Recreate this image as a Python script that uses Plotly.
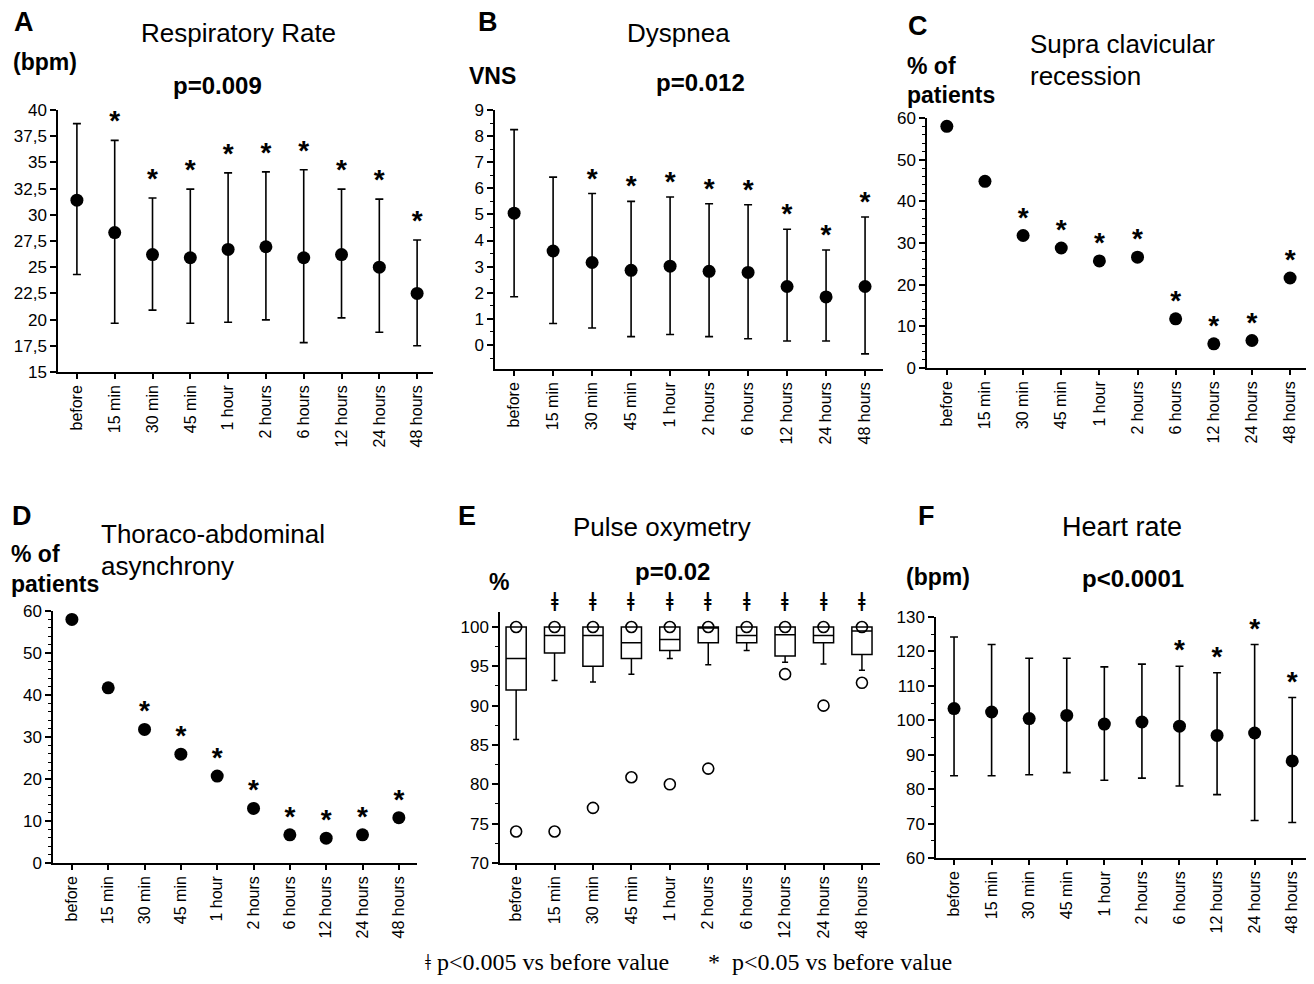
import plotly.graph_objects as go

# page body has an 8px margin: the figure is sized so the page fits the window
OFF = 8
W, H = 1314 - OFF, 984 - 2 * OFF

categories = ["before", "15 min", "30 min", "45 min", "1 hour", "2 hours",
              "6 hours", "12 hours", "24 hours", "48 hours"]

# A: Respiratory rate (bpm)
rr_mean = [31.4, 28.3, 26.2, 25.9, 26.7, 26.95, 25.9, 26.2, 25.0, 22.5]
rr_upper = [38.7, 37.1, 31.6, 32.45, 34.0, 34.1, 34.3, 32.45, 31.5, 27.6]
rr_lower = [24.3, 19.65, 20.9, 19.65, 19.75, 19.97, 17.8, 20.16, 18.8, 17.5]
rr_sig = [False, True, True, True, True, True, True, True, True, True]

# B: Dyspnea (VNS)
dy_mean = [5.05, 3.6, 3.16, 2.86, 3.02, 2.82, 2.78, 2.24, 1.84, 2.24]
dy_upper = [8.25, 6.43, 5.8, 5.5, 5.67, 5.41, 5.37, 4.43, 3.64, 4.9]
dy_lower = [1.85, 0.82, 0.65, 0.32, 0.4, 0.32, 0.24, 0.15, 0.15, -0.34]
dy_sig = [False, False, True, True, True, True, True, True, True, True]

# C: Supra clavicular recession (% of patients)
sc_pct = [58.0, 44.8, 31.8, 28.8, 25.7, 26.6, 11.8, 5.8, 6.6, 21.6]
sc_sig = [False, False, True, True, True, True, True, True, True, True]

# D: Thoraco-abdominal asynchrony (% of patients)
ta_pct = [58.0, 41.7, 31.8, 25.9, 20.7, 13.0, 6.7, 5.9, 6.7, 10.8]
ta_sig = [False, False, True, True, True, True, True, True, True, True]

# E: Pulse oxymetry (%) box plots
po_q1 = [92.0, 96.7, 95.0, 96.0, 97.0, 98.0, 98.0, 96.3, 98.0, 96.5]
po_med = [96.0, 98.9, 98.9, 98.0, 98.4, 100.0, 98.9, 99.0, 98.9, 99.5]
po_q3 = [100, 100, 100, 100, 100, 100, 100, 100, 100, 100]
po_low = [85.7, 93.2, 93.0, 94.0, 96.0, 95.2, 97.0, 95.5, 95.3, 94.5]
po_high = [100, 100, 100, 100, 100, 100, 100, 100, 100, 100]
po_out_high = [100, 100, 100, 100, 100, 100, 100, 100, 100, 100]
po_out_low = [74.0, 74.0, 77.0, 80.9, 80.0, 82.0, None, 94.0, 90.0, 92.9]
po_sig = [False, True, True, True, True, True, True, True, True, True]

# F: Heart rate (bpm)
hr_mean = [103.4, 102.4, 100.5, 101.4, 98.9, 99.5, 98.3, 95.6, 96.3, 88.2]
hr_upper = [124.2, 122.0, 118.0, 118.0, 115.5, 116.3, 115.7, 113.8, 122.0, 106.6]
hr_lower = [83.9, 83.9, 84.2, 84.8, 82.6, 83.2, 80.9, 78.4, 70.9, 70.3]
hr_sig = [False, False, False, False, False, False, True, True, True, True]

FONT = "Arial, Liberation Sans, sans-serif"
SERIF = "Liberation Serif, Times New Roman, serif"
BLACK = "#000000"


def fx(x):
    return min(1.0, max(0.0, (x - OFF) / W))


def fy(y):
    return min(1.0, max(0.0, 1 - (y - OFF) / H))


# panel geometry in window pixels: x (left, right), y (top, bottom)
panels = {
    1: dict(x=(58, 433), y=(110, 372), yr=[15, 40],
            tv=[15, 17.5, 20, 22.5, 25, 27.5, 30, 32.5, 35, 37.5, 40],
            tt=["15", "17,5", "20", "22,5", "25", "27,5", "30", "32,5", "35", "37,5", "40"],
            xr=[-0.5, 9.42], minor=None),
    2: dict(x=(495, 883), y=(110, 369), yr=[-0.92, 9],
            tv=list(range(0, 10)), tt=[str(v) for v in range(0, 10)],
            xr=[-0.49, 9.46], minor=0.5),
    3: dict(x=(927, 1308), y=(118, 368), yr=[0, 60],
            tv=[0, 10, 20, 30, 40, 50, 60], tt=["0", "10", "20", "30", "40", "50", "60"],
            xr=[-0.52, 9.47], minor=2),
    4: dict(x=(53, 417), y=(611, 863), yr=[0, 60],
            tv=[0, 10, 20, 30, 40, 50, 60], tt=["0", "10", "20", "30", "40", "50", "60"],
            xr=[-0.52, 9.5], minor=2),
    5: dict(x=(500, 880), y=(612, 863), yr=[70, 101.9],
            tv=[70, 75, 80, 85, 90, 95, 100], tt=["70", "75", "80", "85", "90", "95", "100"],
            xr=[-0.42, 9.47], minor=2.5),
    6: dict(x=(936, 1308), y=(617, 858), yr=[60, 130],
            tv=[60, 70, 80, 90, 100, 110, 120, 130],
            tt=["60", "70", "80", "90", "100", "110", "120", "130"],
            xr=[-0.48, 9.42], minor=5),
}


def units_per_px(n):
    p = panels[n]
    return (p["yr"][1] - p["yr"][0]) / (p["y"][1] - p["y"][0])


fig = go.Figure()


def err_trace(mean, upper, lower, n):
    return go.Scatter(
        x=categories, y=mean, mode="markers",
        marker=dict(color=BLACK, size=13),
        error_y=dict(type="data", symmetric=False,
                     array=[u - m for u, m in zip(upper, mean)],
                     arrayminus=[m - l for m, l in zip(mean, lower)],
                     color=BLACK, thickness=1.6, width=4),
        xaxis=f"x{n}", yaxis=f"y{n}", showlegend=False, cliponaxis=False)


def star_trace(base, sig, px_gap, n):
    off = px_gap * units_per_px(n)
    xs = [c for c, s in zip(categories, sig) if s]
    ys = [b + off for b, s in zip(base, sig) if s]
    return go.Scatter(
        x=xs, y=ys, mode="text", text=["*"] * len(xs),
        textposition="middle center",
        textfont=dict(family=FONT, size=28, color=BLACK, weight="bold"),
        xaxis=f"x{n}", yaxis=f"y{n}", showlegend=False, cliponaxis=False)


def dot_trace(vals, n):
    return go.Scatter(x=categories, y=vals, mode="markers",
                      marker=dict(color=BLACK, size=13),
                      xaxis=f"x{n}", yaxis=f"y{n}", showlegend=False, cliponaxis=False)


# A
fig.add_trace(err_trace(rr_mean, rr_upper, rr_lower, 1))
fig.add_trace(star_trace(rr_upper, rr_sig, 17, 1))
# B
fig.add_trace(err_trace(dy_mean, dy_upper, dy_lower, 2))
fig.add_trace(star_trace(dy_upper, dy_sig, 13, 2))
# C
fig.add_trace(dot_trace(sc_pct, 3))
fig.add_trace(star_trace(sc_pct, sc_sig, 16, 3))
# D
fig.add_trace(dot_trace(ta_pct, 4))
fig.add_trace(star_trace(ta_pct, ta_sig, 16, 4))
# E
fig.add_trace(go.Box(x=categories, q1=po_q1, median=po_med, q3=po_q3,
                     lowerfence=po_low, upperfence=po_high,
                     fillcolor="white", line=dict(color=BLACK, width=1.5),
                     whiskerwidth=0.3, boxpoints=False,
                     xaxis="x5", yaxis="y5", showlegend=False))
for vals in (po_out_high, po_out_low):
    fig.add_trace(go.Scatter(x=categories, y=vals, mode="markers",
                             marker=dict(symbol="circle-open", color=BLACK, size=11,
                                         line=dict(width=1.6)),
                             xaxis="x5", yaxis="y5", showlegend=False, cliponaxis=False))
# F
fig.add_trace(err_trace(hr_mean, hr_upper, hr_lower, 6))
fig.add_trace(star_trace(hr_upper, hr_sig, 14, 6))

layout_axes = {}
for n, p in panels.items():
    xa = dict(domain=[fx(p["x"][0]), fx(p["x"][1])], anchor=f"y{n}", type="category",
              categoryorder="array", categoryarray=categories,
              range=p["xr"], showline=True, linecolor=BLACK, linewidth=1.5,
              ticks="outside", ticklen=5, tickwidth=1.5, tickcolor=BLACK,
              tickangle=-90, tickfont=dict(family=FONT, size=16, color=BLACK),
              showgrid=False, zeroline=False, fixedrange=True, automargin=False)
    ya = dict(domain=[fy(p["y"][1]), fy(p["y"][0])], anchor=f"x{n}", range=p["yr"],
              tickmode="array", tickvals=p["tv"], ticktext=p["tt"],
              showline=True, linecolor=BLACK, linewidth=1.5,
              ticks="outside", ticklen=6, tickwidth=1.5, tickcolor=BLACK,
              tickfont=dict(family=FONT, size=17, color=BLACK),
              showgrid=False, zeroline=False, fixedrange=True, automargin=False)
    if p["minor"]:
        ya["minor"] = dict(dtick=p["minor"], tick0=0, ticks="outside", ticklen=3,
                           tickwidth=1.2, tickcolor=BLACK, showgrid=False)
    key = "" if n == 1 else str(n)
    layout_axes["xaxis" + key] = xa
    layout_axes["yaxis" + key] = ya

fig.update_layout(**layout_axes)


def ann(text, x, y, size, bold=False, xanchor="left", family=FONT):
    if bold:
        text = f"<b>{text}</b>"
    return dict(text=text, x=fx(x), y=fy(y), xref="paper", yref="paper",
                xanchor=xanchor, yanchor="middle", showarrow=False,
                font=dict(family=family, size=size, color=BLACK))


annotations = [
    ann("A", 12, 22, 27, bold=True),
    ann("Respiratory Rate", 238, 33, 26, xanchor="center"),
    ann("(bpm)", 11, 62, 23, bold=True),
    ann("p=0.009", 217, 85, 24, bold=True, xanchor="center"),

    ann("B", 476, 22, 27, bold=True),
    ann("Dyspnea", 678, 33, 26, xanchor="center"),
    ann("VNS", 467, 76, 23, bold=True),
    ann("p=0.012", 700, 83, 24, bold=True, xanchor="center"),

    ann("C", 906, 26, 27, bold=True),
    ann("Supra clavicular", 1028, 44, 26),
    ann("recession", 1028, 76, 26),
    ann("% of", 905, 66, 23, bold=True),
    ann("patients", 905, 95, 23, bold=True),

    ann("D", 10, 516, 27, bold=True),
    ann("Thoraco-abdominal", 99, 534, 26),
    ann("asynchrony", 99, 566, 26),
    ann("% of", 9, 554, 23, bold=True),
    ann("patients", 9, 584, 23, bold=True),

    ann("E", 456, 516, 27, bold=True),
    ann("Pulse oxymetry", 662, 527, 26, xanchor="center"),
    ann("%", 487, 582, 23, bold=True),
    ann("p=0.02", 672, 571, 24, bold=True, xanchor="center"),

    ann("F", 916, 516, 27, bold=True),
    ann("Heart rate", 1122, 527, 27, xanchor="center"),
    ann("(bpm)", 904, 577, 23, bold=True),
    ann("p<0.0001", 1133, 578, 24, bold=True, xanchor="center"),

    ann("ǂ p&lt;0.005 vs before value", 423, 962, 24, family=SERIF),
    ann("*  p&lt;0.05 vs before value", 706, 962, 24, family=SERIF),
]

# double-cross significance marks above the boxes (x in panel E data, y in paper)
for c, s in zip(categories, po_sig):
    if s:
        annotations.append(dict(text="<b>ǂ</b>", x=c, y=fy(602), xref="x5", yref="paper",
                                xanchor="center", yanchor="middle", showarrow=False,
                                font=dict(family=SERIF, size=27, color=BLACK)))

fig.update_layout(
    width=W, height=H, autosize=False,
    margin=dict(l=0, r=0, t=0, b=0, autoexpand=False),
    paper_bgcolor="white", plot_bgcolor="white",
    boxgap=0.25, showlegend=False,
    annotations=annotations,
    font=dict(family=FONT, color=BLACK),
)

fig.write_html("out.html", include_plotlyjs=True, full_html=True,
               config={"displayModeBar": False})
